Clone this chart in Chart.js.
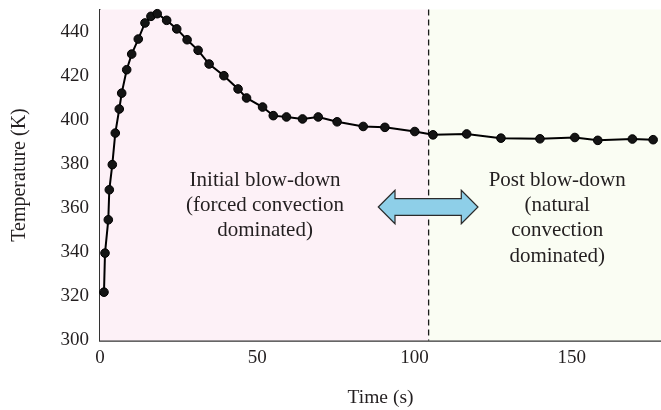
<!DOCTYPE html>
<html>
<head>
<meta charset="utf-8">
<script src="https://cdn.jsdelivr.net/npm/chart.js@4.4.1/dist/chart.umd.min.js"></script>
<style>
  html, body { margin: 0; padding: 0; background: #ffffff; }
  #wrap { width: 661px; height: 410px; }
</style>
</head>
<body>
<div id="wrap"><canvas id="c" width="661" height="410"></canvas></div>
<script>
// ---- data ----
const timeS = [1.27, 1.59, 2.64, 2.96, 3.91, 4.86, 6.13, 6.9, 8.49, 10.08, 12.17, 14.3, 16.2, 18.2, 21.2, 24.4, 27.7, 31.2, 34.7, 39.4, 43.9, 46.6, 51.7, 55.1, 59.3, 64.4, 69.4, 75.4, 83.7, 90.6, 100.1, 105.9, 116.6, 127.5, 139.9, 151.0, 158.3, 169.3, 175.9];
const temperatureK = [321.9, 339.6, 354.7, 368.3, 379.7, 394.0, 404.9, 412.1, 422.7, 429.8, 436.6, 443.9, 446.9, 448.1, 445.1, 441.2, 436.3, 431.5, 425.3, 420.0, 414.0, 409.9, 405.8, 401.9, 401.3, 400.4, 401.3, 399.1, 397.0, 396.6, 394.7, 393.2, 393.6, 391.7, 391.4, 392.0, 390.7, 391.3, 391.0];
const xTicks = [0, 50, 100, 150];
const yTicks = [300, 320, 340, 360, 380, 400, 420, 440];
const xRange = [0, 178.4];
const yRange = [300, 450];
const phaseBoundary = 104.5;          // s, dashed line
const arrowSpan = [88.5, 120.2];      // s
const arrowLevel = 360.5;             // K
const leftLabel = ["Initial blow-down", "(forced convection", "dominated)"];
const rightLabel = ["Post blow-down", "(natural", "convection", "dominated)"];
const leftLabelPos = [52.5, 370.1];
const rightLabelPos = [145.4, 370.1];

const FONT = "'Liberation Serif', 'Times New Roman', serif";
const TEXT = '#231f20';

const regionsPlugin = {
  id: 'regions',
  beforeDatasetsDraw(chart) {
    const { ctx, chartArea: a, scales: { x } } = chart;
    const xb = x.getPixelForValue(phaseBoundary);
    ctx.save();
    ctx.fillStyle = '#fdf1f7';
    ctx.fillRect(a.left, a.top, xb - a.left, a.bottom - a.top);
    ctx.fillStyle = '#fafdf3';
    ctx.fillRect(xb, a.top, a.right - xb, a.bottom - a.top);
    ctx.strokeStyle = '#1a1a1a';
    ctx.lineWidth = 1.3;
    ctx.setLineDash([6, 4]);
    ctx.beginPath();
    ctx.moveTo(xb, a.top);
    ctx.lineTo(xb, a.bottom);
    ctx.stroke();
    ctx.restore();
  },
  afterDatasetsDraw(chart) {
    const { ctx, scales: { x, y } } = chart;
    const x1 = x.getPixelForValue(arrowSpan[0]);
    const x2 = x.getPixelForValue(arrowSpan[1]);
    const yc = y.getPixelForValue(arrowLevel);
    const hh = 16.7, bh = 8.3, hl = 16.7;
    ctx.save();
    ctx.beginPath();
    ctx.moveTo(x1, yc);
    ctx.lineTo(x1 + hl, yc - hh);
    ctx.lineTo(x1 + hl, yc - bh);
    ctx.lineTo(x2 - hl, yc - bh);
    ctx.lineTo(x2 - hl, yc - hh);
    ctx.lineTo(x2, yc);
    ctx.lineTo(x2 - hl, yc + hh);
    ctx.lineTo(x2 - hl, yc + bh);
    ctx.lineTo(x1 + hl, yc + bh);
    ctx.lineTo(x1 + hl, yc + hh);
    ctx.closePath();
    ctx.fillStyle = '#8ecfe8';
    ctx.fill();
    ctx.strokeStyle = '#2b2b2b';
    ctx.lineWidth = 1.2;
    ctx.stroke();
    ctx.fillStyle = TEXT;
    ctx.font = '21px ' + FONT;
    ctx.textAlign = 'center';
    ctx.textBaseline = 'alphabetic';
    const lh = 25.3;
    const drawLines = (lines, pos) => {
      const px = x.getPixelForValue(pos[0]);
      const py = y.getPixelForValue(pos[1]);
      lines.forEach((s, i) => ctx.fillText(s, px, py + i * lh));
    };
    drawLines(leftLabel, leftLabelPos);
    drawLines(rightLabel, rightLabelPos);
    ctx.restore();
  }
};

const noPad = s => { s.paddingTop = 0; s.paddingBottom = 0; s.paddingLeft = 0; s.paddingRight = 0; };

new Chart(document.getElementById('c'), {
  type: 'scatter',
  data: {
    datasets: [{
      data: timeS.map((t, i) => ({ x: t, y: temperatureK[i] })),
      showLine: true,
      borderColor: '#000000',
      borderWidth: 2,
      pointRadius: 4.3,
      pointBackgroundColor: '#141414',
      pointBorderColor: '#000000',
      pointBorderWidth: 1,
      tension: 0,
      clip: false
    }]
  },
  options: {
    responsive: false,
    animation: false,
    devicePixelRatio: 1,
    layout: { autoPadding: false, padding: { top: 9.5, right: 0, left: 0, bottom: 0 } },
    plugins: { legend: { display: false }, tooltip: { enabled: false } },
    scales: {
      x: {
        type: 'linear',
        min: xRange[0], max: xRange[1],
        afterBuildTicks: s => { s.ticks = xTicks.map(v => ({ value: v })); },
        afterFit: s => { s.height = 69.5; noPad(s); },
        grid: { display: false, drawTicks: false },
        border: { display: true, color: '#333333', width: 1.8 },
        ticks: { color: TEXT, font: { family: FONT, size: 19 }, padding: 6, maxRotation: 0 },
        title: { display: true, text: 'Time (s)', color: TEXT, font: { family: FONT, size: 19.5 }, padding: { top: 0, bottom: 0 } }
      },
      y: {
        type: 'linear',
        min: yRange[0], max: yRange[1],
        afterBuildTicks: s => { s.ticks = yTicks.map(v => ({ value: v })); },
        afterFit: s => { s.width = 100; noPad(s); },
        grid: { display: false, drawTicks: false },
        border: { display: true, color: '#333333', width: 1.8 },
        ticks: { color: TEXT, font: { family: FONT, size: 19 }, padding: 11 },
        title: { display: true, text: 'Temperature (K)', color: TEXT, font: { family: FONT, size: 20 }, padding: { top: 8, bottom: 0 } }
      }
    }
  },
  plugins: [regionsPlugin]
});
</script>
</body>
</html>
